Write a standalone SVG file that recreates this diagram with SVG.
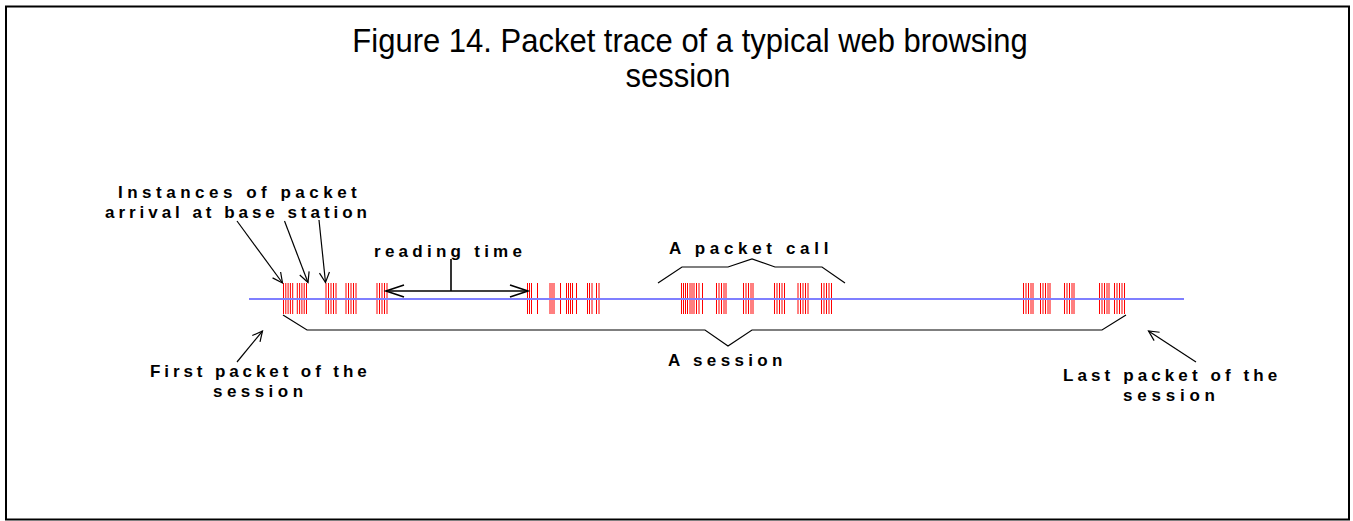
<svg xmlns="http://www.w3.org/2000/svg" width="1353" height="521" viewBox="0 0 1353 521">
<style>
.title{font-family:"Liberation Sans",Arial,sans-serif;font-size:31px;fill:#000}
.lbl{font-family:"Liberation Sans",Arial,sans-serif;font-size:17px;font-weight:bold;fill:#000}
.bars{stroke:#ff0000;stroke-width:1;fill:none}
.ln{stroke:#000;stroke-width:1.2;fill:none}
.thick{stroke:#000;stroke-width:1.6;fill:none}
</style>
<defs>
<marker id="ah" markerUnits="userSpaceOnUse" markerWidth="14" markerHeight="12" refX="10" refY="5" orient="auto" overflow="visible">
<path d="M0,0 L10,5 L0,10" fill="none" stroke="#000" stroke-width="1.2"/>
</marker>
<marker id="ahb" markerUnits="userSpaceOnUse" markerWidth="22" markerHeight="16" refX="18" refY="6" orient="auto-start-reverse" overflow="visible">
<path d="M0,0 L18,6 L0,12" fill="none" stroke="#000" stroke-width="1.6"/>
</marker>
</defs>
<rect x="6" y="6.5" width="1343" height="513" fill="#fff" stroke="#000" stroke-width="2"/>
<g id="title">
<text class="title" transform="translate(690 52) scale(1 1.1)" text-anchor="middle">Figure 14. Packet trace of a typical web browsing</text>
<text class="title" transform="translate(678 87) scale(1 1.1)" text-anchor="middle">session</text>
</g>
<g id="packets">
<path class="bars" d="M283.5,283V314M285.8,283V314M288.1,283V314M290.4,283V314M292.7,283V314M297.3,283V314M299.6,283V314M301.9,283V314M304.2,283V314M306.5,283V314M326,283V314M328.5,283V314M331,283V314M333.5,283V314M336,283V314M346,283V314M348.5,283V314M351,283V314M353.5,283V314M356,283V314M377,283V314M379.5,283V314M382,283V314M384.5,283V314M387,283V314M527.5,283V314M529.5,283V314M531.5,283V314M537.5,283V314M550,283V314M552,283V314M554,283V314M560.5,283V314M566.5,283V314M568.5,283V314M570.5,283V314M572.5,283V314M576.5,283V314M587.5,283V314M589.5,283V314M592,283V314M596.5,283V314M599,283V314M681.5,283V314M683.5,283V314M685.5,283V314M687.5,283V314M690,283V314M692,283V314M694,283V314M696.5,283V314M699,283V314M702.5,283V314M716.5,283V314M719,283V314M721.5,283V314M724,283V314M726,283V314M743.5,283V314M746,283V314M748.5,283V314M751,283V314M753,283V314M774.5,283V314M777,283V314M779.5,283V314M782,283V314M784.5,283V314M798,283V314M800.5,283V314M803,283V314M805.5,283V314M808,283V314M821.5,283V314M824,283V314M826.5,283V314M829,283V314M831.5,283V314M1023.5,283V314M1026,283V314M1028.5,283V314M1031,283V314M1033,283V314M1040.5,283V314M1043,283V314M1045.5,283V314M1048,283V314M1050,283V314M1064.5,283V314M1067,283V314M1069.5,283V314M1072,283V314M1074,283V314M1099.5,283V314M1102,283V314M1104.5,283V314M1107,283V314M1109,283V314M1114.5,283V314M1117,283V314M1119.5,283V314M1122,283V314M1124.5,283V314"/>
</g>
<g id="timeline">
<line x1="249" y1="299" x2="1184" y2="299" stroke="#7f7fff" stroke-width="2"/>
</g>
<g id="connectors">
<line class="ln" x1="237" y1="221" x2="282.5" y2="283" marker-end="url(#ah)"/>
<line class="ln" x1="284.5" y1="221" x2="308" y2="282.5" marker-end="url(#ah)"/>
<line class="ln" x1="319" y1="220" x2="325.5" y2="282.5" marker-end="url(#ah)"/>
<line class="thick" x1="386" y1="291" x2="528" y2="291" marker-start="url(#ahb)" marker-end="url(#ahb)"/>
<line class="thick" x1="451" y1="259" x2="451" y2="291"/>
<polyline class="ln" points="658,283 682,267 728,267 752,259 775,267 822,267 845,283"/>
<polyline class="ln" points="283,315 307,330 705,330 728,346 752,330 1102,330 1126,315"/>
<line class="ln" x1="237" y1="362" x2="262.5" y2="331" marker-end="url(#ah)"/>
<line class="ln" x1="1196" y1="362" x2="1148.5" y2="331" marker-end="url(#ah)"/>
</g>
<g id="label-instances">
<text class="lbl" x="118" y="198" letter-spacing="4.5">Instances of packet</text>
<text class="lbl" x="105" y="218" letter-spacing="3.96">arrival at base station</text>
</g>
<g id="label-reading">
<text class="lbl" x="374" y="257" letter-spacing="4.26">reading time</text>
</g>
<g id="label-packetcall">
<text class="lbl" x="669" y="254" letter-spacing="4.67">A packet call</text>
</g>
<g id="label-session">
<text class="lbl" x="668" y="366" letter-spacing="4.34">A session</text>
</g>
<g id="label-first">
<text class="lbl" x="150" y="377" letter-spacing="3.9">First packet of the</text>
<text class="lbl" x="213" y="397" letter-spacing="4.45">session</text>
</g>
<g id="label-last">
<text class="lbl" x="1063" y="381" letter-spacing="4.1">Last packet of the</text>
<text class="lbl" x="1123" y="401" letter-spacing="4.78">session</text>
</g>
</svg>
